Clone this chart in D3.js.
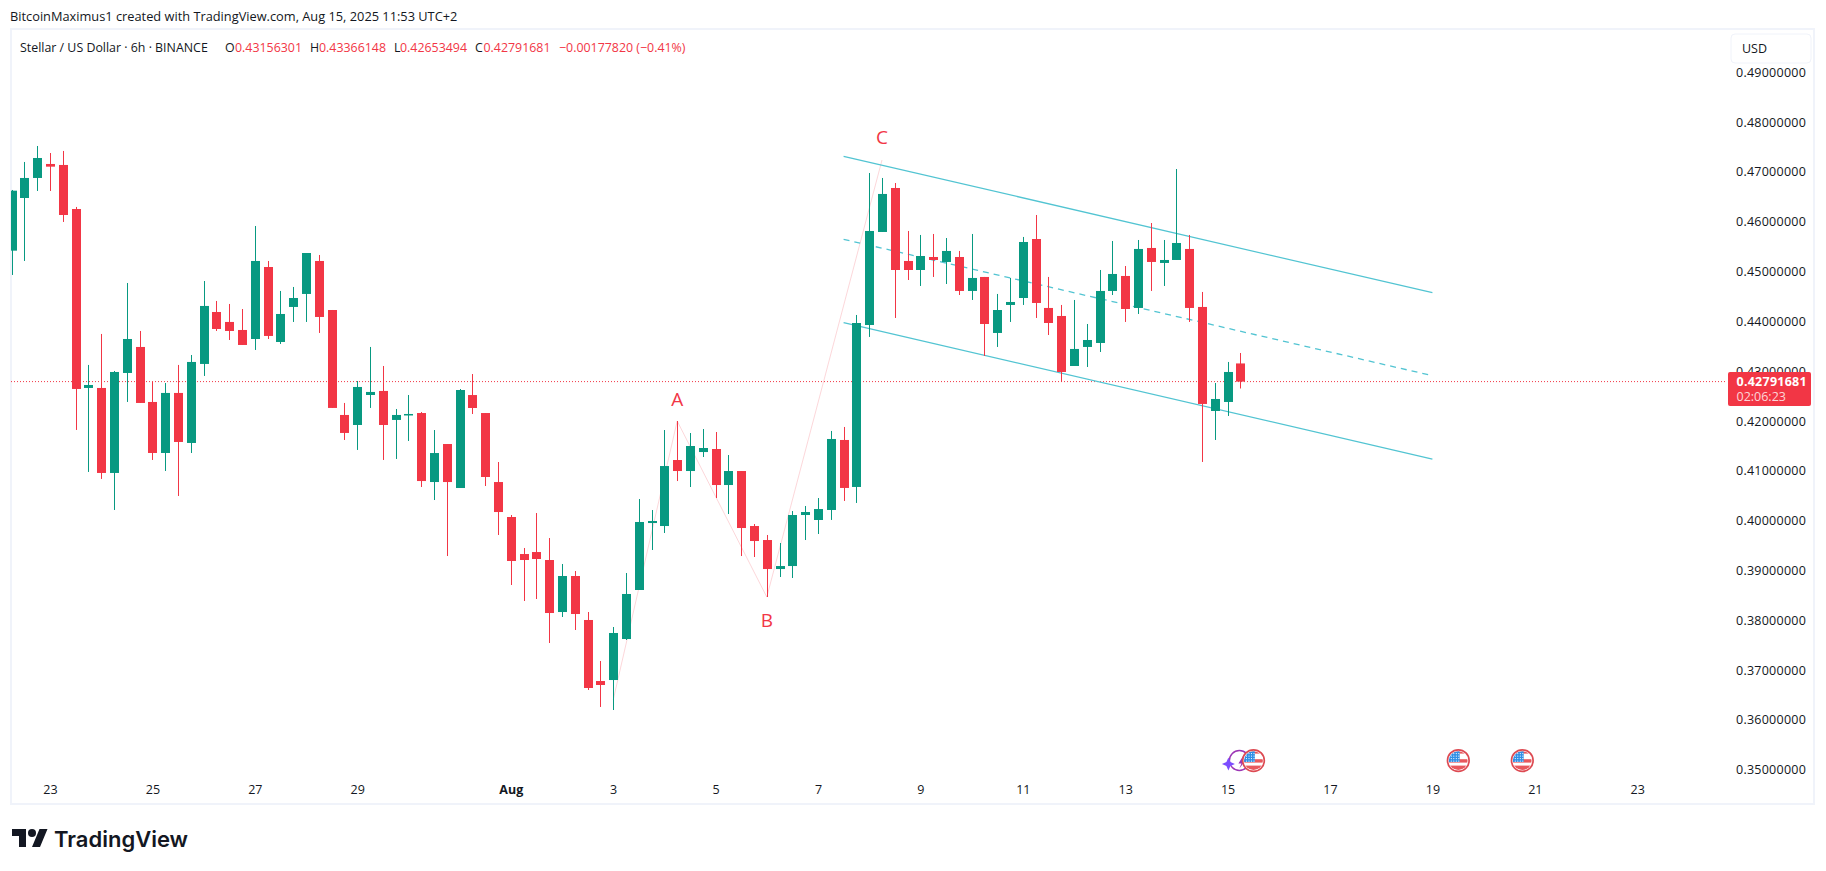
<!DOCTYPE html>
<html>
<head>
<meta charset="utf-8">
<title>Stellar / US Dollar</title>
<script src="https://cdn.jsdelivr.net/npm/d3@7/dist/d3.min.js"></script>
<style>
  html, body { margin: 0; padding: 0; background: #fff; }
  svg { display: block; }
  text { font-family: "Open Sans", "Noto Sans", sans-serif; }
</style>
</head>
<body>
<svg id="chart" width="1826" height="871"></svg>
<script>
// Six-hour XLM/USD candles, oldest first.
const opens = [
  .45420,.46477,.46879,.47160,.47140,.46256,.42664,.42664,.40958,.42965,.43487,.42383,.41359,.42564,.41560,.43146,
  .44189,.43989,.43828,.43647,.45092,.43587,.44290,.44551,.45213,.44229,.42122,.41921,.42523,.42604,.42022,.42122,
  .42161,.40776,.41539,.40656,.42522,.42161,.40776,.40074,.39331,.39371,.39211,.38167,.38890,.38007,.36782,.36802,
  .37625,.38609,.39953,.39893,.41218,.40997,.41378,.41439,.40716,.40997,.39893,.39612,.39030,.39090,.40114,.40014,
  .40215,.41620,.40677,.43928,.45795,.46678,.45213,.45032,.45293,.45193,.45293,.44611,.44892,.43768,.44330,.44470,
  .45654,.44270,.44109,.43105,.43487,.43567,.44611,.44912,.44270,.45474,.45173,.45233,.45454,.44290,.42202,.42383,
  .43156301
];
const highs = [
  .46638,.47200,.47521,.47380,.47421,.46297,.43126,.43748,.43005,.44771,.43808,.42784,.42764,.43126,.43326,.44811,
  .44410,.44350,.44249,.45915,.45213,.44611,.44691,.45373,.45333,.44229,.42363,.42804,.43487,.43105,.42242,.42523,
  .42181,.41820,.41539,.42643,.42944,.42161,.41178,.40114,.39452,.40154,.39652,.39131,.38990,.38167,.37184,.37866,
  .38950,.40435,.40214,.41820,.42001,.41760,.41840,.41780,.41318,.40997,.39933,.39713,.39552,.40194,.40295,.40455,
  .41801,.41881,.44129,.46979,.46879,.46778,.45815,.45735,.45755,.45674,.45414,.45755,.44892,.44551,.44872,.45695,
  .46136,.44892,.44330,.44430,.43948,.45032,.45614,.45112,.45634,.45975,.45634,.47059,.45735,.44591,.42764,.43186,
  .43366148
];
const lows = [
  .44932,.45213,.46618,.46618,.45996,.41821,.40978,.40838,.40215,.42383,.42363,.41219,.40998,.40496,.41359,.42905,
  .43808,.43627,.43527,.43427,.43647,.43547,.43989,.43989,.43768,.42263,.41620,.41420,.42263,.41219,.41239,.41600,
  .40676,.40415,.39291,.40656,.42141,.40696,.39713,.38709,.38388,.38428,.37545,.38067,.37806,.36602,.36261,.36200,
  .37605,.38609,.39412,.39753,.40796,.40676,.41278,.40455,.40134,.39291,.39271,.38468,.38870,.38850,.39612,.39733,
  .40015,.40396,.40356,.43688,.45795,.44069,.44831,.44711,.44892,.44751,.44530,.44430,.43306,.43487,.43989,.44330,
  .44069,.43727,.42784,.43105,.43085,.43386,.44530,.43989,.44149,.44611,.44711,.45233,.43989,.41179,.41620,.42102,
  .42653494
];
const closes = [
  .46624,.46879,.47280,.47106,.46136,.42644,.42724,.40958,.42985,.43647,.42363,.41359,.42564,.41580,.43186,.44310,
  .43848,.43808,.43527,.45213,.43708,.44149,.44470,.45373,.44089,.42263,.41761,.42684,.42584,.41921,.42122,.42142,
  .40796,.41358,.40776,.42623,.42262,.40877,.40174,.39191,.39211,.39231,.38147,.38890,.38127,.36642,.36702,.37746,
  .38529,.39974,.39994,.41097,.40997,.41499,.41459,.40716,.40997,.39853,.39592,.39030,.39090,.40114,.40174,.40234,
  .41640,.40657,.43968,.45815,.46558,.45032,.45032,.45313,.45233,.45414,.44611,.44872,.43948,.44229,.44390,.45594,
  .44370,.43968,.42985,.43447,.43627,.44611,.44952,.44249,.45454,.45193,.45233,.45574,.44270,.42343,.42443,.42985,
  .42791681
];

// Price scale ticks and the date ticks, positioned by candle index.
const priceTicks = [.49,.48,.47,.46,.45,.44,.43,.42,.41,.40,.39,.38,.37,.36,.35];
const dateTickIndex = [3,11,19,27,39,47,55,63,71,79,87,95,103,111,119,127];
const dateTickLabels = ["23","25","27","29","Aug","3","5","7","9","11","13","15","17","19","21","23"];

const lastPrice = 0.42791681;
const lastPriceLabel = "0.42791681";
const countdownLabel = "02:06:23";

// Descending channel: [candle index, price] end points of each rail.
const channelUpper = [[65, .47314], [111, .44576]];
const channelMiddle = [[65, .45648], [111, .42910]];
const channelLower = [[65, .43974], [111, .41238]];

// A-B-C swing, starting from the early August low.
const swingPoints = [[47, .36401], [52, .42001], [59, .38468], [68, .47240]];
const swingLabels = ["A", "B", "C"];
const swingLabelPrices = [.42302, .37867, .47561];

// Economic event markers, by candle index.
const flagEventIndex = [97, 113, 118];
const earningsEventIndex = [96];

const UP = "#089981", DOWN = "#f23645", CHANNEL = "#52c4d2", SWING = "rgba(242,54,69,0.2)";

const panel = { left: 11, right: 1814, top: 29, bottom: 804 };
const x = d3.scaleLinear().domain([3, 95]).range([50, 1227.6]);
const y = d3.scaleLinear().domain([0.49, 0.35]).range([72.3, 769.8]);

const svg = d3.select("#chart");

svg.append("defs").append("clipPath").attr("id", "plot-clip")
  .append("rect").attr("x", panel.left).attr("y", panel.top)
    .attr("width", 1725 - panel.left).attr("height", panel.bottom - panel.top);
svg.select("defs").append("clipPath").attr("id", "flag-clip")
  .append("circle").attr("r", 9.4);

// Attribution line above the panel.
svg.append("text").attr("x", 10).attr("y", 21).attr("font-size", 12.8).attr("fill", "#131722")
  .text("BitcoinMaximus1 created with TradingView.com, Aug 15, 2025 11:53 UTC+2");

// Panel frame.
svg.append("rect")
  .attr("x", panel.left).attr("y", panel.top)
  .attr("width", panel.right - panel.left).attr("height", panel.bottom - panel.top)
  .attr("fill", "#fff").attr("stroke", "#f0f3fa").attr("stroke-width", 2);

const plot = svg.append("g").attr("clip-path", "url(#plot-clip)");

// Swing lines sit underneath the candles.
plot.append("path")
  .attr("d", d3.line().x(d => x(d[0])).y(d => y(d[1]))(swingPoints))
  .attr("fill", "none").attr("stroke", SWING).attr("stroke-width", 1);

// Last price line.
plot.append("line")
  .attr("x1", panel.left).attr("x2", 1725)
  .attr("y1", y(lastPrice)).attr("y2", y(lastPrice))
  .attr("stroke", DOWN).attr("stroke-width", 1).attr("stroke-dasharray", "1 2");

// Channel rails.
const rail = d3.line().x(d => x(d[0])).y(d => y(d[1]));
[[channelUpper, null], [channelLower, null], [channelMiddle, "6 5"]].forEach(([pts, dash]) => {
  plot.append("path").attr("d", rail(pts)).attr("fill", "none")
    .attr("stroke", CHANNEL).attr("stroke-width", 1.3).attr("stroke-dasharray", dash);
});

// Candles.
const candles = opens.map((o, i) => ({ i, o, h: highs[i], l: lows[i], c: closes[i] }));
const bodyWidth = 9;
const candle = plot.selectAll("g.candle").data(candles).join("g").attr("class", "candle")
  .attr("fill", d => d.c >= d.o ? UP : DOWN)
  .attr("stroke", d => d.c >= d.o ? UP : DOWN);
candle.append("line")
  .attr("x1", d => Math.round(x(d.i)) + 0.5).attr("x2", d => Math.round(x(d.i)) + 0.5)
  .attr("y1", d => y(d.h)).attr("y2", d => y(d.l)).attr("stroke-width", 1);
candle.append("rect")
  .attr("x", d => Math.round(x(d.i)) + 0.5 - bodyWidth / 2)
  .attr("width", bodyWidth)
  .attr("y", d => y(Math.max(d.o, d.c)))
  .attr("height", d => Math.max(1.5, Math.abs(y(d.o) - y(d.c))))
  .attr("stroke", "none");

// Swing labels.
plot.selectAll("text.swing").data(swingLabels).join("text").attr("class", "swing")
  .attr("x", (d, i) => x(swingPoints[i + 1][0]))
  .attr("y", (d, i) => y(swingLabelPrices[i]))
  .attr("text-anchor", "middle").attr("font-size", 19).attr("fill", DOWN)
  .text(d => d);

// Event markers.
const earnings = svg.selectAll("g.earn").data(earningsEventIndex).join("g").attr("class", "earn")
  .attr("transform", d => `translate(${x(d) - 1},760.5)`);
earnings.append("circle").attr("r", 10).attr("fill", "#fff")
  .attr("stroke", "#9c36b5").attr("stroke-width", 1.5);
earnings.append("path")
  .attr("d", "M-11,-3 L-9,1.5 L-4.5,3.5 L-9,5.5 L-11,10 L-13,5.5 L-17.5,3.5 L-13,1.5 Z")
  .attr("fill", "#7c4dff");
earnings.append("path")
  .attr("d", "M4,-5 L-1,3 L2,3 L0,8 L6,0 L3,0 Z").attr("fill", "#9c36b5");

const flag = svg.selectAll("g.flag").data(flagEventIndex).join("g").attr("class", "flag")
  .attr("transform", d => `translate(${x(d) + 0.3},760.6)`);
flag.append("circle").attr("r", 10.8).attr("fill", "#fff").attr("stroke", "#dd4a52").attr("stroke-width", 1.7);
const flagFace = flag.append("g").attr("clip-path", "url(#flag-clip)");
// Stripes: thin at the top, a broad band through the middle, and one along the bottom.
[[-9.4, 2.4], [-1.4, 3.4], [5, 4.4]].forEach(([top, height]) => {
  flagFace.append("rect").attr("x", -9.4).attr("y", top).attr("width", 18.8).attr("height", height).attr("fill", "#e8585d");
});
flagFace.append("rect").attr("x", -9.4).attr("y", -9.4).attr("width", 10.8).attr("height", 10.8).attr("fill", "#2f8fe6");
d3.range(-7, 1, 2.5).forEach(cy => d3.range(-7, 1, 2.5).forEach(cx => {
  flagFace.append("circle").attr("cx", cx).attr("cy", cy).attr("r", 0.6).attr("fill", "#fff");
}));

// Price axis.
const yAxis = d3.axisRight(y).tickValues(priceTicks).tickSize(0).tickPadding(0)
  .tickFormat(d3.format(".8f"));
svg.append("g").attr("transform", "translate(1736,0)").call(yAxis)
  .call(g => g.select(".domain").remove())
  .call(g => g.selectAll("text").attr("font-size", 12.5).attr("fill", "#131722")
    .style("font-family", '"Open Sans", sans-serif').attr("x", 0).attr("letter-spacing", 0.25));

// Date axis.
const xAxis = d3.axisBottom(x).tickValues(dateTickIndex).tickSize(0).tickPadding(0)
  .tickFormat((d, i) => dateTickLabels[i]);
svg.append("g").attr("transform", "translate(0,785)").call(xAxis)
  .call(g => g.select(".domain").remove())
  .call(g => g.selectAll("text").attr("font-size", 12.5).attr("fill", "#131722").attr("dy", "0.7em")
    .style("font-family", '"Open Sans", sans-serif')
    .attr("font-weight", (d, i) => dateTickLabels[i] === "Aug" ? 700 : 400));

// Currency selector.
svg.append("rect").attr("x", 1731).attr("y", 34).attr("width", 80).attr("height", 29).attr("rx", 4)
  .attr("fill", "#fff").attr("stroke", "#f0f3fa");
svg.append("text").attr("x", 1742).attr("y", 53).attr("font-size", 12.5).attr("fill", "#131722").text("USD");

// Last price tag.
svg.append("rect").attr("x", 1728).attr("y", 372).attr("width", 83).attr("height", 34).attr("rx", 2).attr("fill", DOWN);
svg.append("text").attr("x", 1736.5).attr("y", 386).attr("font-size", 12.5).attr("font-weight", 700)
  .attr("letter-spacing", 0.25).attr("fill", "#fff").text(lastPriceLabel);
svg.append("text").attr("x", 1736.5).attr("y", 401).attr("font-size", 12.5)
  .attr("fill", "rgba(255,255,255,0.8)").text(countdownLabel);

// Legend row: symbol name, then OHLC and the change in the candle colour.
const legendParts = [
  ["Stellar / US Dollar · 6h · BINANCE", "#131722", 20],
  ["O", "#131722", 225], ["0.43156301", DOWN, 235],
  ["H", "#131722", 310], ["0.43366148", DOWN, 319],
  ["L", "#131722", 394], ["0.42653494", DOWN, 400],
  ["C", "#131722", 475], ["0.42791681", DOWN, 483.5],
  ["−0.00177820 (−0.41%)", DOWN, 559]
];
svg.append("g").selectAll("text").data(legendParts).join("text")
  .attr("x", d => d[2]).attr("y", 51.5).attr("font-size", 12.4).attr("fill", d => d[1]).text(d => d[0]);

// Wordmark.
const brand = svg.append("g").attr("transform", "translate(12,825)").attr("fill", "#131722");
brand.append("path").attr("d", "M14 22H7V11H0V4h14v18zM28 22h-8l7.5-18h8L28 22z");
brand.append("circle").attr("cx", 20).attr("cy", 8).attr("r", 4);
svg.append("text").attr("x", 54).attr("y", 847).attr("font-size", 22).attr("font-weight", 600)
  .attr("fill", "#131722").style("font-family", "Inter, sans-serif").text("TradingView");
</script>
</body>
</html>
